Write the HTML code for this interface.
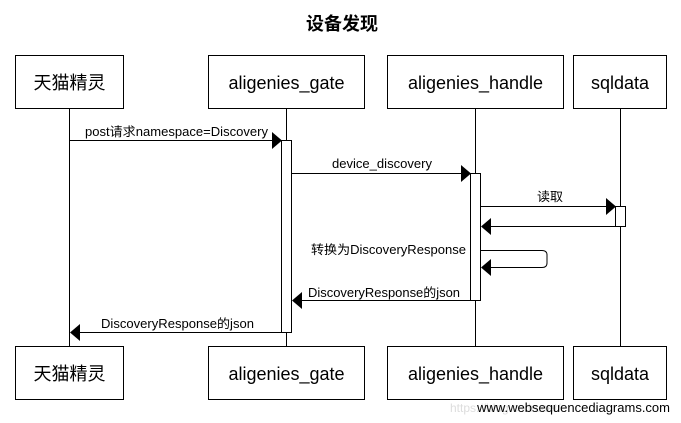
<!DOCTYPE html>
<html><head><meta charset="utf-8"><style>
html,body{margin:0;padding:0;background:#fff;}
svg{display:block;}
text{font-family:"Liberation Sans","Noto Sans CJK SC",sans-serif;fill:#000;}
</style></head><body>
<svg width="681" height="423" viewBox="0 0 681 423" xmlns="http://www.w3.org/2000/svg">
<text x="342" y="30" font-size="18" font-weight="bold" text-anchor="middle">设备发现</text>
<g stroke="#000" stroke-width="1" fill="none">
<line x1="69.5" y1="108" x2="69.5" y2="346"/>
<line x1="286.5" y1="108" x2="286.5" y2="346"/>
<line x1="475.5" y1="108" x2="475.5" y2="346"/>
<line x1="620.5" y1="108" x2="620.5" y2="346"/>
<rect x="15.5" y="55.5" width="108" height="53" fill="#fff"/>
<rect x="208.5" y="55.5" width="156" height="53" fill="#fff"/>
<rect x="387.5" y="55.5" width="176" height="53" fill="#fff"/>
<rect x="573.5" y="55.5" width="93" height="53" fill="#fff"/>
<rect x="15.5" y="346.5" width="108" height="53" fill="#fff"/>
<rect x="208.5" y="346.5" width="156" height="53" fill="#fff"/>
<rect x="387.5" y="346.5" width="176" height="53" fill="#fff"/>
<rect x="573.5" y="346.5" width="93" height="53" fill="#fff"/>
<rect x="281.5" y="140.5" width="10" height="192" fill="#fff"/>
<rect x="470.5" y="173.5" width="10" height="127" fill="#fff"/>
<rect x="615.5" y="206.5" width="10" height="20" fill="#fff"/>
<line x1="69" y1="140.5" x2="272" y2="140.5"/>
<line x1="292" y1="173.5" x2="461" y2="173.5"/>
<line x1="481" y1="206.5" x2="606" y2="206.5"/>
<line x1="490" y1="226.5" x2="615" y2="226.5"/>
<path d="M481 250.5 H542 Q547 250.5 547 255 V263 Q547 267.5 542 267.5 H490"/>
<line x1="301" y1="300.5" x2="470" y2="300.5"/>
<line x1="79" y1="332.5" x2="281" y2="332.5"/>
</g>
<g fill="#000">
<polygon points="272,132 282,140.5 272,149"/>
<polygon points="461,165 471,173.5 461,182"/>
<polygon points="606,198 616,206.5 606,215"/>
<polygon points="491,218 481,226.5 491,235"/>
<polygon points="491,259 481,267.5 491,276"/>
<polygon points="302,292 292,300.5 302,309"/>
<polygon points="80,324 70,332.5 80,341"/>
</g>
<g font-size="12.5">
<text x="85" y="136" textLength="183" lengthAdjust="spacingAndGlyphs">post请求namespace=Discovery</text>
<text x="332" y="168" textLength="100" lengthAdjust="spacingAndGlyphs">device_discovery</text>
<text x="537" y="201" textLength="26" lengthAdjust="spacingAndGlyphs">读取</text>
<text x="311" y="254" textLength="155" lengthAdjust="spacingAndGlyphs">转换为DiscoveryResponse</text>
<text x="308" y="297" textLength="152" lengthAdjust="spacingAndGlyphs">DiscoveryResponse的json</text>
<text x="101" y="328" textLength="153" lengthAdjust="spacingAndGlyphs">DiscoveryResponse的json</text>
</g>
<g font-size="18" text-anchor="middle">
<text x="69.5" y="89">天猫精灵</text>
<text x="286.5" y="89">aligenies_gate</text>
<text x="475.5" y="89">aligenies_handle</text>
<text x="620" y="89">sqldata</text>
<text x="69.5" y="380">天猫精灵</text>
<text x="286.5" y="380">aligenies_gate</text>
<text x="475.5" y="380">aligenies_handle</text>
<text x="620" y="380">sqldata</text>
</g>
<text x="450" y="412" font-size="12" style="fill:#ddd">https://blog.csdn.net/</text>
<text x="670" y="412" font-size="13" text-anchor="end">www.websequencediagrams.com</text>
</svg>
</body></html>
